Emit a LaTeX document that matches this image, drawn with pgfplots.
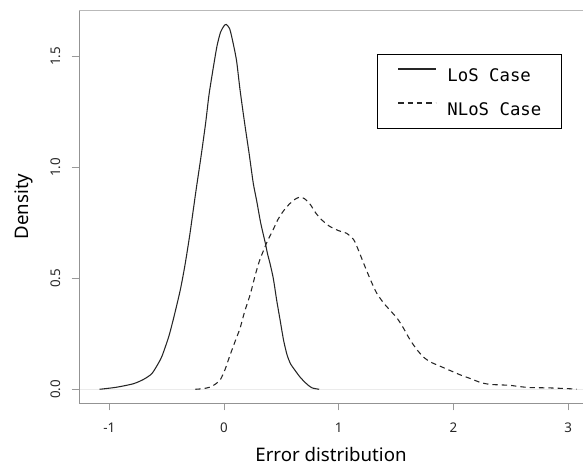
\documentclass[border=0pt]{standalone}
\usepackage{fontspec}
\setmainfont{Noto Sans}
\newfontfamily\legfont{DejaVu Sans Mono}
\usepackage{pgfplots}
\pgfplotsset{compat=1.18}
\begin{document}
\begin{tikzpicture}
\useasboundingbox (0,0) rectangle (437.25pt,351pt);
\begin{axis}[
  at={(59.25pt,48.75pt)}, anchor=south west,
  scale only axis, width=378pt, height=294.75pt,
  xmin=-1.264, xmax=3.13, ymin=-0.0618, ymax=1.710,
  clip=false,
  axis line style={draw=none},
  xtick={-1,0,1,2,3}, xticklabels={-1,0,1,2,3},
  ytick={0,0.5,1,1.5}, yticklabels={0.0,0.5,1.0,1.5},
  tick pos=left, tick align=outside, major tick length=5.5pt,
  tick style={gray!80, line width=0.6pt},
  ticklabel style={font=\fontsize{10}{12}\selectfont, text=black!85},
  /pgf/number format/assume math mode=true,
  yticklabel style={xshift=-4.9pt, rotate=90, anchor=south},
  xticklabel style={anchor=north, yshift=-6pt},
  xlabel={Error distribution},
  ylabel={Density},
  xlabel style={at={(axis description cs:0.5,-0.148)}, anchor=base, font=\fontsize{14}{16}\selectfont, inner sep=0pt, text depth=0pt},
  ylabel style={at={(axis description cs:-0.1091,0.5)}, anchor=center, font=\fontsize{14}{16}\selectfont, inner sep=0pt},
  legend style={at={(rel axis cs:0.591,0.888)}, anchor=north west, draw=black, line width=0.7pt, fill=white,
    inner xsep=15pt, inner ysep=10pt, row sep=16pt, column sep=8.25pt,
    font=\legfont\fontsize{13}{15}\selectfont,
    nodes={inner sep=0pt, text height=9.5pt, text depth=0pt}},
  legend cell align=left,
  legend image code/.code={\draw[#1, line width=1.3pt] (0pt,4.5pt) -- (28pt,4.5pt);},
]
\draw[black!8, line width=0.6pt] (axis cs:-1.264,0) -- (axis cs:3.13,0);
\addplot[black!85, line width=0.8pt, smooth, tension=0.4] coordinates {
(-1.085,0) (-0.94,0.009) (-0.79,0.025) (-0.70,0.045) (-0.63,0.07) (-0.58,0.11) (-0.54,0.15)
(-0.48,0.24) (-0.43,0.34) (-0.38,0.45) (-0.34,0.56) (-0.30,0.69) (-0.27,0.80) (-0.24,0.91)
(-0.20,1.05) (-0.16,1.20) (-0.13,1.33) (-0.09,1.46) (-0.06,1.55) (-0.03,1.61) (0.0,1.638)
(0.02,1.645) (0.05,1.625) (0.08,1.56) (0.11,1.48) (0.14,1.35) (0.18,1.20) (0.22,1.06)
(0.255,0.93) (0.285,0.85) (0.32,0.75) (0.36,0.66) (0.38,0.61) (0.40,0.57) (0.43,0.50)
(0.46,0.40) (0.49,0.31) (0.52,0.22) (0.55,0.155) (0.58,0.115) (0.62,0.085) (0.66,0.057)
(0.69,0.04) (0.73,0.02) (0.77,0.006) (0.83,0)
};
\addlegendentry{LoS Case}
\addplot[black!85, line width=0.8pt, dash pattern=on 4pt off 3pt, smooth, tension=0.4] coordinates {
(-0.25,0) (-0.18,0.003) (-0.12,0.01) (-0.07,0.025) (-0.03,0.045) (0.01,0.09) (0.05,0.15)
(0.10,0.22) (0.14,0.275) (0.18,0.35) (0.23,0.43) (0.27,0.51) (0.31,0.58) (0.38,0.67)
(0.42,0.71) (0.47,0.765) (0.52,0.805) (0.57,0.835) (0.62,0.857) (0.66,0.866) (0.70,0.86)
(0.75,0.835) (0.80,0.795) (0.85,0.765) (0.92,0.735) (1.00,0.715) (1.07,0.703) (1.13,0.675)
(1.17,0.63) (1.22,0.565) (1.28,0.49) (1.33,0.435) (1.39,0.39) (1.45,0.355) (1.51,0.32)
(1.56,0.28) (1.62,0.225) (1.68,0.18) (1.74,0.145) (1.80,0.123) (1.88,0.105) (1.97,0.085)
(2.06,0.065) (2.15,0.048) (2.24,0.03) (2.32,0.022) (2.40,0.02) (2.49,0.018) (2.58,0.012)
(2.66,0.008) (2.76,0.007) (2.85,0.006) (2.95,0.004) (3.075,0.001)
};
\addlegendentry{NLoS Case}
\draw[gray!85, line width=0.7pt] (rel axis cs:0,1) -- (rel axis cs:0,0) -- (rel axis cs:1,0);
\draw[gray!55, line width=0.7pt] (rel axis cs:0,1) -- (rel axis cs:1,1);
\end{axis}
\end{tikzpicture}
\end{document}
